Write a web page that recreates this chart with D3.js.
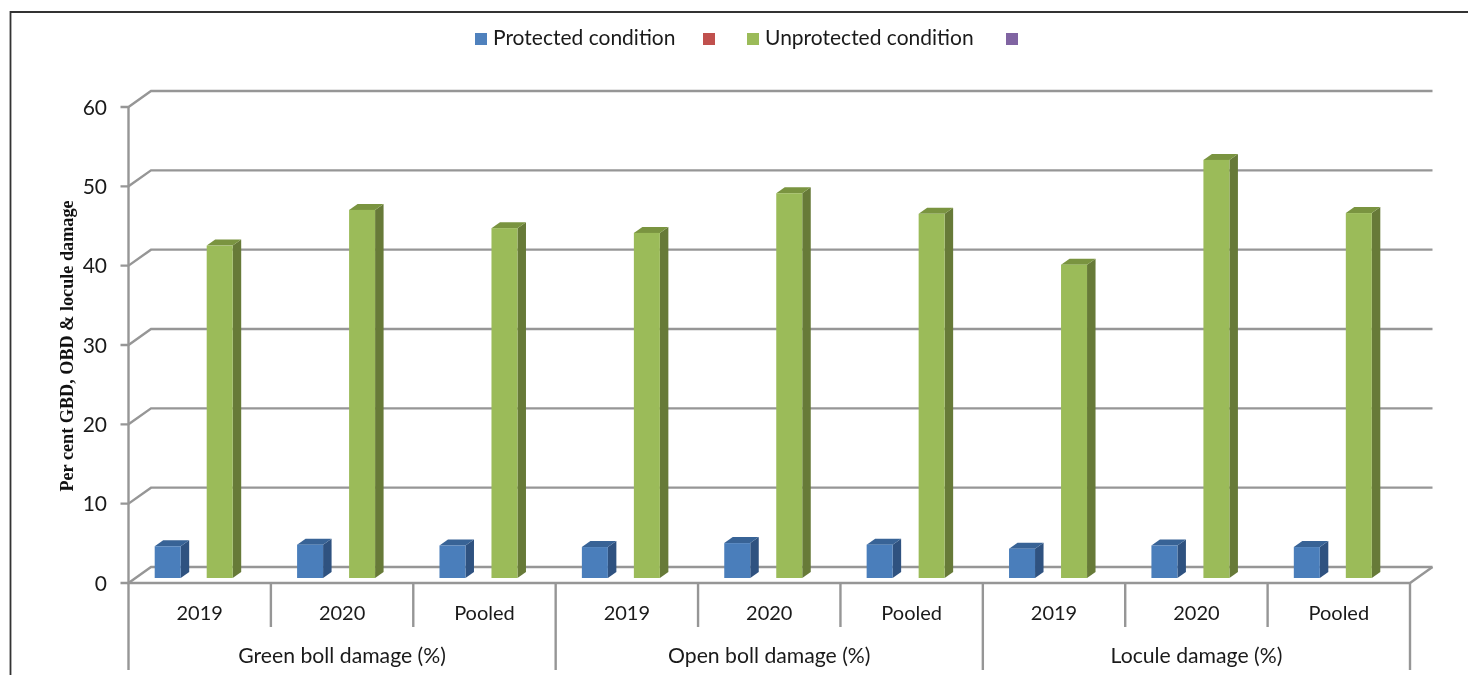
<!DOCTYPE html>
<html>
<head>
<meta charset="utf-8">
<script src="https://cdnjs.cloudflare.com/ajax/libs/d3/7.8.5/d3.min.js"></script>
<style>
html, body { margin: 0; padding: 0; background: #fff; overflow: hidden; }
svg { display: block; filter: blur(0.55px); }
</style>
</head>
<body>
<script>
var groups = ["Green boll damage (%)", "Open boll damage (%)", "Locule damage (%)"];
var years = ["2019", "2020", "Pooled"];
var series = ["Protected condition", "s2", "Unprotected condition", "s4"];
var legendLabels = ["Protected condition", "", "Unprotected condition", ""];
var protectedValues = [4.0, 4.2, 4.1, 3.9, 4.4, 4.2, 3.7, 4.1, 3.9];
var unprotectedValues = [41.9, 46.4, 44.1, 43.5, 48.5, 45.9, 39.5, 52.7, 46.0];
var yTicks = [0, 10, 20, 30, 40, 50, 60];

var colors = ["#4f81bd", "#c0504d", "#9bbb59", "#8064a2"];
var frontColors = {"Protected condition": "#4a7ebb", "Unprotected condition": "#9bbb59"};
var sideColors = {"Protected condition": "#2f5280", "Unprotected condition": "#677a38"};
var topColors = {"Protected condition": "#386396", "Unprotected condition": "#7a9440"};

var gridColor = "#969696";
var textColor = "#1a1a1a";
var labelFont = "Lato, sans-serif";

// wall offset of the fake 3d box, and depth of a single bar
var wallDx = 22.5, wallDy = -16;
var barDx = 8.5, barDy = -6, barLift = 5;

var svg = d3.select("body").append("svg")
	.attr("width", 1468)
	.attr("height", 675);

var x = d3.scaleBand()
	.domain(d3.range(9))
	.range([128.5, 1410]);

var xSeries = d3.scaleBand()
	.domain(series)
	.range([26.2, 130.2]);

var y = d3.scaleLinear()
	.domain([0, 60])
	.range([583, 107]);

// outer frame
svg.append("path")
	.attr("d", "M10.5,675V12H1468")
	.attr("fill", "none")
	.attr("stroke", "#333")
	.attr("stroke-width", 1.8);

// gridlines on the back wall
yTicks.forEach(function(t) {
	svg.append("path")
		.attr("d", "M" + (x.range()[0] - 8) + "," + y(t)
			+ "H" + x.range()[0]
			+ "L" + (x.range()[0] + wallDx) + "," + (y(t) + wallDy)
			+ "H" + (x.range()[1] + wallDx))
		.attr("fill", "none")
		.attr("stroke", gridColor)
		.attr("stroke-width", 2.4);
	svg.append("text")
		.attr("x", 107)
		.attr("y", y(t) + 7.5)
		.attr("text-anchor", "end")
		.attr("fill", textColor)
		.style("font-family", labelFont)
		.style("font-size", "21px")
		.text(t);
});

// floor and y axis
svg.append("path")
	.attr("d", "M" + x.range()[0] + "," + y(60) + "V" + y(0) + "H" + x.range()[1]
		+ "L" + (x.range()[1] + wallDx) + "," + (y(0) + wallDy))
	.attr("fill", "none")
	.attr("stroke", gridColor)
	.attr("stroke-width", 2.4);

// two level category axis
d3.range(10).forEach(function(i) {
	var px = i < 9 ? x(i) : x.range()[1];
	svg.append("line")
		.attr("x1", px)
		.attr("x2", px)
		.attr("y1", y(0))
		.attr("y2", i % 3 == 0 ? 670 : 627)
		.attr("stroke", gridColor)
		.attr("stroke-width", 2.4);
});

d3.range(9).forEach(function(i) {
	svg.append("text")
		.attr("x", x(i) + x.bandwidth() / 2)
		.attr("y", 620)
		.attr("text-anchor", "middle")
		.attr("fill", textColor)
		.style("font-family", labelFont)
		.style("font-size", "20px")
		.text(years[i % 3]);
});

groups.forEach(function(g, i) {
	svg.append("text")
		.attr("x", x(i * 3) + x.bandwidth() * 1.5)
		.attr("y", 663)
		.attr("text-anchor", "middle")
		.attr("fill", textColor)
		.style("font-family", labelFont)
		.style("font-size", "21.2px")
		.text(g);
});

// bars
function drawBars(name, values) {
	var w = xSeries.bandwidth();
	var bars = svg.append("g").selectAll("g")
		.data(values)
		.enter().append("g");

	function left(d, i) { return x(i) + xSeries(name); }
	function top(d) { return y(d) - barLift; }

	bars.append("path")
		.attr("fill", sideColors[name])
		.attr("d", function(d, i) {
			var r = left(d, i) + w;
			return "M" + r + "," + top(d)
				+ "l" + barDx + "," + barDy
				+ "V" + (y(0) - barLift + barDy)
				+ "l" + (-barDx) + "," + (-barDy) + "Z";
		});
	bars.append("path")
		.attr("fill", topColors[name])
		.attr("d", function(d, i) {
			return "M" + left(d, i) + "," + top(d)
				+ "l" + barDx + "," + barDy
				+ "h" + w
				+ "l" + (-barDx) + "," + (-barDy) + "Z";
		});
	bars.append("rect")
		.attr("fill", frontColors[name])
		.attr("x", left)
		.attr("y", top)
		.attr("width", w)
		.attr("height", function(d) { return y(0) - y(d); });
}
drawBars("Protected condition", protectedValues);
drawBars("Unprotected condition", unprotectedValues);

// legend
var legendX = [475, 703, 747, 1006];
legendLabels.forEach(function(label, i) {
	svg.append("rect")
		.attr("x", legendX[i])
		.attr("y", 33)
		.attr("width", 12)
		.attr("height", 12)
		.attr("fill", colors[i]);
	if (label) {
		svg.append("text")
			.attr("x", legendX[i] + 18)
			.attr("y", 45)
			.attr("fill", textColor)
			.style("font-family", labelFont)
			.style("font-size", "21px")
			.text(label);
	}
});

// y axis title
svg.append("text")
	.attr("transform", "translate(73,346) rotate(-90)")
	.attr("text-anchor", "middle")
	.attr("fill", "#111")
	.style("font-family", "'Liberation Serif', serif")
	.style("font-weight", "bold")
	.style("font-size", "18.2px")
	.text("Per cent GBD, OBD & locule damage");
</script>
</body>
</html>
